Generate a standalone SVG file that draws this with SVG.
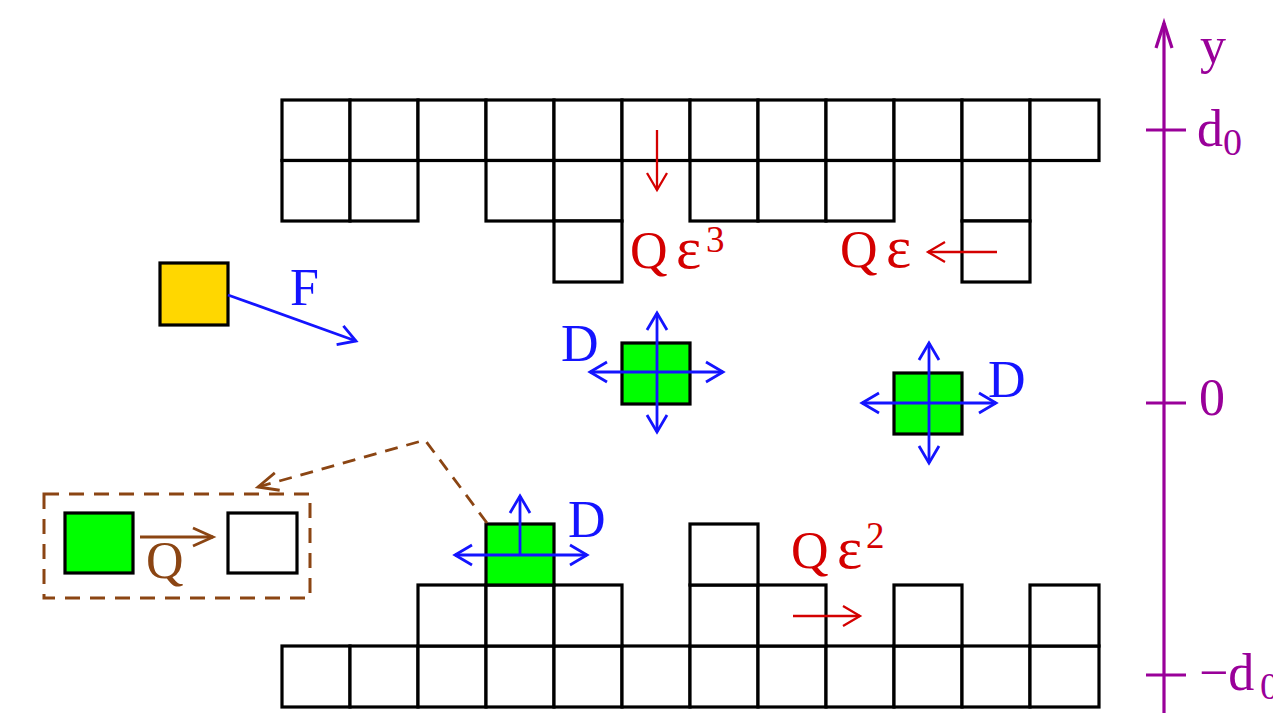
<svg xmlns="http://www.w3.org/2000/svg" width="1273" height="713" viewBox="0 0 1273 713">
<style>
.cell{fill:#fff;stroke:#000;stroke-width:3.2}
.grn{fill:#00ff00;stroke:#000;stroke-width:3.2}
.lbl{font-family:"Liberation Serif","Times New Roman",serif;font-size:52px}
.red{fill:#d40000}.blue{fill:#1414ff}.pur{fill:#990099}.brn{fill:#8b4513}
.ar{fill:none;stroke:#d40000;stroke-width:2.3}
.ab{fill:none;stroke:#1414ff;stroke-width:2.8}
.ap{fill:none;stroke:#990099;stroke-width:3.2}
.abr{fill:none;stroke:#8b4513;stroke-width:2.8}
</style>
<defs>
<marker id="mr" markerUnits="userSpaceOnUse" markerWidth="40" markerHeight="40" refX="0" refY="0" orient="auto-start-reverse" viewBox="-20 -20 40 40" overflow="visible"><path d="M-17,-10 L0,0 L-17,10" fill="none" stroke="#d40000" stroke-width="2.3"/></marker>
<marker id="mb" markerUnits="userSpaceOnUse" markerWidth="40" markerHeight="40" refX="0" refY="0" orient="auto-start-reverse" viewBox="-20 -20 40 40" overflow="visible"><path d="M-17,-10 L0,0 L-17,10" fill="none" stroke="#1414ff" stroke-width="2.8"/></marker>
<marker id="mbr" markerUnits="userSpaceOnUse" markerWidth="40" markerHeight="40" refX="0" refY="0" orient="auto-start-reverse" viewBox="-25 -20 40 40" overflow="visible"><path d="M-20,-9 L0,0 L-20,9" fill="none" stroke="#8b4513" stroke-width="2.8"/></marker>
<marker id="mp" markerUnits="userSpaceOnUse" markerWidth="40" markerHeight="40" refX="0" refY="0" orient="auto-start-reverse" viewBox="-30 -20 40 40" overflow="visible"><path d="M-25,-8 L0,0 L-25,8" fill="none" stroke="#990099" stroke-width="3.2"/></marker>
</defs>
<rect width="1273" height="713" fill="#fff"/>

<g id="top-wall">
<rect class="cell" x="282" y="100" width="68" height="60.5"/>
<rect class="cell" x="350" y="100" width="68" height="60.5"/>
<rect class="cell" x="418" y="100" width="68" height="60.5"/>
<rect class="cell" x="486" y="100" width="68" height="60.5"/>
<rect class="cell" x="554" y="100" width="68" height="60.5"/>
<rect class="cell" x="622" y="100" width="68" height="60.5"/>
<rect class="cell" x="690" y="100" width="68" height="60.5"/>
<rect class="cell" x="758" y="100" width="68" height="60.5"/>
<rect class="cell" x="826" y="100" width="68" height="60.5"/>
<rect class="cell" x="894" y="100" width="68" height="60.5"/>
<rect class="cell" x="962" y="100" width="68" height="60.5"/>
<rect class="cell" x="1030" y="100" width="69" height="60.5"/>
<rect class="cell" x="282" y="160.5" width="68" height="60.5"/>
<rect class="cell" x="350" y="160.5" width="68" height="60.5"/>
<rect class="cell" x="486" y="160.5" width="68" height="60.5"/>
<rect class="cell" x="554" y="160.5" width="68" height="60.5"/>
<rect class="cell" x="690" y="160.5" width="68" height="60.5"/>
<rect class="cell" x="758" y="160.5" width="68" height="60.5"/>
<rect class="cell" x="826" y="160.5" width="68" height="60.5"/>
<rect class="cell" x="962" y="160.5" width="68" height="60.5"/>
<rect class="cell" x="554" y="221" width="68" height="61"/>
<rect class="cell" x="962" y="221" width="68" height="61"/>
</g>

<g id="bottom-wall">
<rect class="cell" x="282" y="646" width="68" height="61"/>
<rect class="cell" x="350" y="646" width="68" height="61"/>
<rect class="cell" x="418" y="646" width="68" height="61"/>
<rect class="cell" x="486" y="646" width="68" height="61"/>
<rect class="cell" x="554" y="646" width="68" height="61"/>
<rect class="cell" x="622" y="646" width="68" height="61"/>
<rect class="cell" x="690" y="646" width="68" height="61"/>
<rect class="cell" x="758" y="646" width="68" height="61"/>
<rect class="cell" x="826" y="646" width="68" height="61"/>
<rect class="cell" x="894" y="646" width="68" height="61"/>
<rect class="cell" x="962" y="646" width="68" height="61"/>
<rect class="cell" x="1030" y="646" width="69" height="61"/>
<rect class="cell" x="418" y="585" width="68" height="61"/>
<rect class="cell" x="486" y="585" width="68" height="61"/>
<rect class="cell" x="554" y="585" width="68" height="61"/>
<rect class="cell" x="690" y="585" width="68" height="61"/>
<rect class="cell" x="758" y="585" width="68" height="61"/>
<rect class="cell" x="894" y="585" width="68" height="61"/>
<rect class="cell" x="1030" y="585" width="69" height="61"/>
<rect class="cell" x="690" y="524" width="68" height="61"/>
</g>

<g id="adsorbed-particle">
<rect class="grn" x="486" y="524" width="68" height="61"/>
</g>
<g id="particle-1">
<rect class="grn" x="622" y="343" width="68" height="61"/>
</g>
<g id="particle-2">
<rect class="grn" x="894" y="373" width="68" height="61"/>
</g>
<g id="incoming-particle">
<rect x="160" y="263" width="68" height="62" fill="#ffd700" stroke="#000" stroke-width="3.2"/>
</g>
<g id="inset">
<rect x="44" y="494" width="266" height="104" fill="none" stroke="#8b4513" stroke-width="3" stroke-dasharray="15,10"/>
<rect class="grn" x="65" y="513" width="68" height="60"/>
<rect class="cell" x="228" y="513" width="69" height="60"/>
</g>

<g id="connectors">
<line class="ab" x1="228" y1="295" x2="356" y2="341" marker-end="url(#mb)"/>
<line class="ab" x1="657" y1="313" x2="657" y2="432" marker-start="url(#mb)" marker-end="url(#mb)"/>
<line class="ab" x1="590" y1="372" x2="723" y2="372" marker-start="url(#mb)" marker-end="url(#mb)"/>
<line class="ab" x1="929" y1="343" x2="929" y2="463" marker-start="url(#mb)" marker-end="url(#mb)"/>
<line class="ab" x1="862" y1="403" x2="996" y2="403" marker-start="url(#mb)" marker-end="url(#mb)"/>
<line class="ab" x1="520" y1="555" x2="520" y2="496" marker-end="url(#mb)"/>
<line class="ab" x1="455" y1="555" x2="587" y2="555" marker-start="url(#mb)" marker-end="url(#mb)"/>
<line class="ar" x1="657" y1="130" x2="657" y2="190" marker-end="url(#mr)"/>
<line class="ar" x1="997" y1="252" x2="928" y2="252" marker-end="url(#mr)"/>
<line class="ar" x1="793" y1="616" x2="860" y2="616" marker-end="url(#mr)"/>
<line class="abr" x1="140" y1="537" x2="213" y2="537" marker-end="url(#mbr)"/>
<polyline class="abr" points="487,523 425,440 258,487" stroke-dasharray="13,9" marker-end="url(#mbr)"/>
<line class="ap" x1="1164" y1="713" x2="1164" y2="23" marker-end="url(#mp)"/>
<line class="ap" x1="1146" y1="130" x2="1186" y2="130"/>
<line class="ap" x1="1146" y1="403" x2="1186" y2="403"/>
<line class="ap" x1="1146" y1="675" x2="1186" y2="675"/>
</g>

<g id="labels">
<text class="lbl blue" x="290" y="305">F</text>
<text class="lbl blue" x="561" y="361" font-size="54">D</text>
<text class="lbl blue" x="988" y="397" font-size="54">D</text>
<text class="lbl blue" x="568" y="537" font-size="54">D</text>
<text class="lbl brn" x="146" y="578" font-size="55">Q</text>
<text class="lbl red" x="630" y="268" font-size="56">Q<tspan x="676" font-size="60">ε</tspan><tspan x="706" dy="-16" font-size="37">3</tspan></text>
<text class="lbl red" x="840" y="267" font-size="56">Q<tspan x="886" font-size="60">ε</tspan></text>
<text class="lbl red" x="791" y="568" font-size="56">Q<tspan x="837" font-size="60">ε</tspan><tspan x="866" dy="-20" font-size="37">2</tspan></text>
<text class="lbl pur" x="1200" y="63" font-size="54">y</text>
<text class="lbl pur" x="1197" y="146" font-size="54">d<tspan x="1223" dy="9" font-size="38">0</tspan></text>
<text class="lbl pur" x="1199" y="415" font-size="54">0</text>
<text class="lbl pur" x="1199" y="690" font-size="54">−d<tspan x="1260" dy="9" font-size="38">0</tspan></text>
</g>
</svg>
